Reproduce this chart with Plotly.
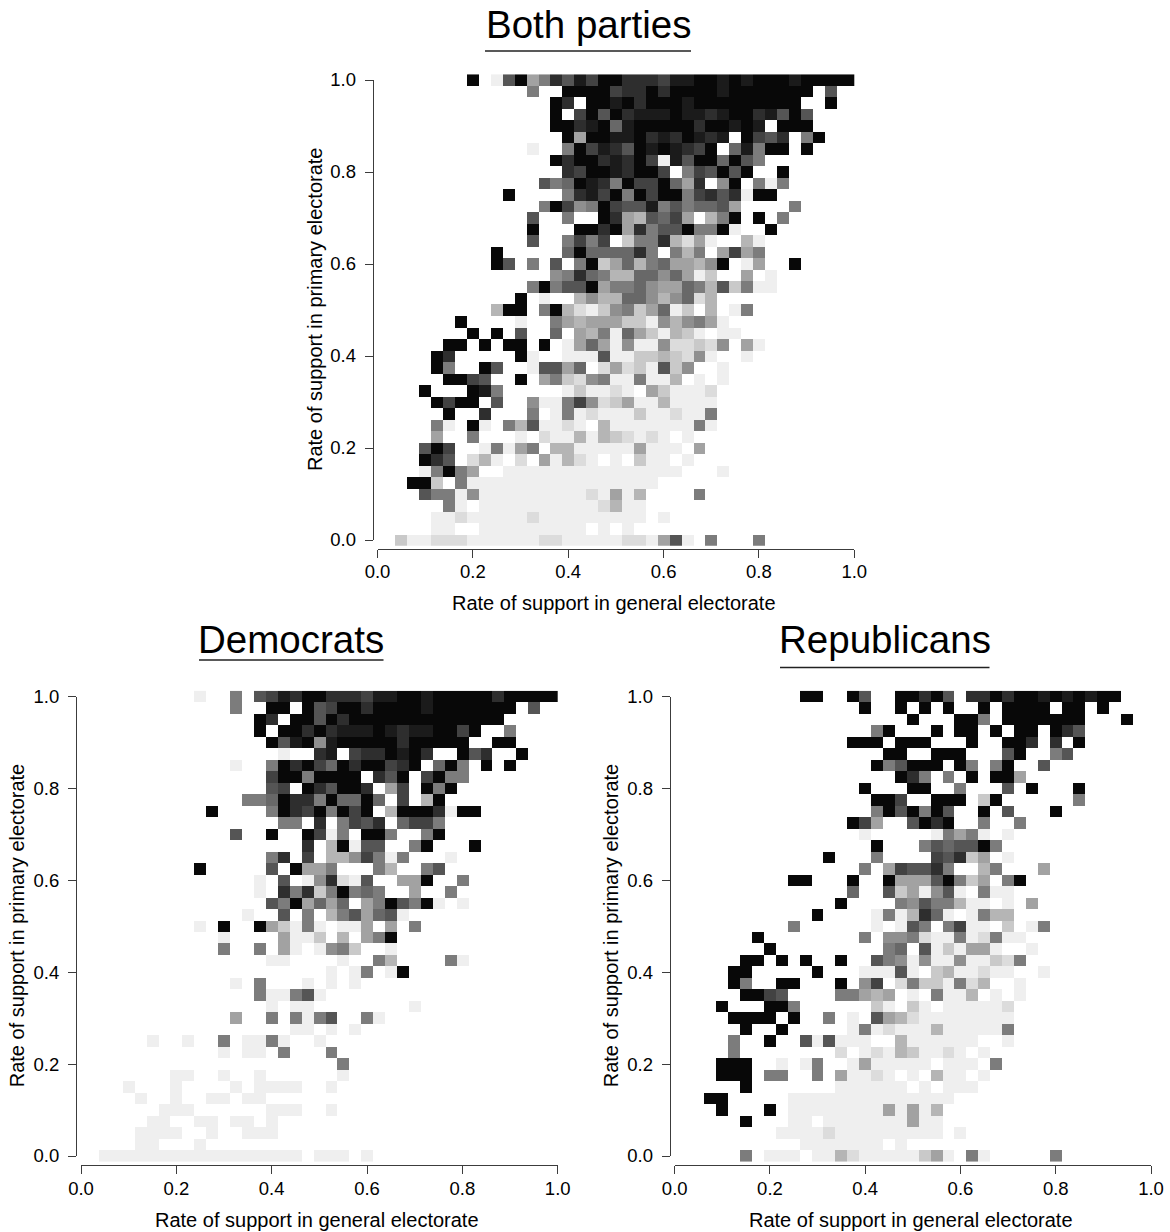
import plotly.graph_objects as go

W, H = 1170, 1232
FONT = "Liberation Sans"

# Each row is one y level, top row (1.0) first; each character is one x level (0.0, 0.025 ... 1.0).
# '.' = no data; 0..9,a,b,c = share in twelfths (0 = lightest, c = black).
both_rows = [
 "........c. 08c46a8b9c caaa9bbccb cbcccbcccc c",
 ".......... ...6..cccc 9aacaccccb ccccccc.8. .",
 ".......... .....ca.cc bcacccbccc cccccc..c. .",
 ".......... .....c.9c8 cabbbcbbab ccab8c8... .",
 ".......... .....ccabc 7bcccccacc bcb.ccc... .",
 ".......... ......c4cc bbcabacbab .c98a.6c.. .",
 ".......... ...0..6c9b a8cbcba9c. 7b6cc.c... .",
 ".......... .....cacca bac90b8cc7 c86....... .",
 ".......... ......a9cc bacc9.698c 8c..c..... .",
 ".......... ....867cba 6c99c74a.5 c.606..... .",
 ".......... .c....6ab9 c6c9cc69a8 a0cc...... .",
 ".......... ....6c956c 988b686778 4....6.... .",
 ".......... ...8..6..c a438794.36 c.c.6..... .",
 ".......... ...c...cca c4a688c66c 0..c...... .",
 ".......... ...8..6969 .266a3140. .30....... .",
 ".......... c.....7c77 77a6.636.4 946....... .",
 ".......... c8.6.8.6c2 473674435c .04..c.... .",
 ".......... .....56a76 337757402. .4.0...... .",
 ".......... ...6c688c4 6675447638 2600...... .",
 ".......... ..c.0..353 377535713. .......... .",
 ".......... 3cc.6c3102 5624702.3. 06........ .",
 ".......c.. ..0..64344 4220535640 .......... .",
 "........c. c.8..7.436 07420320.0 0......... .",
 "......cc.c .cc.c.0474 0500511215 .40....... .",
 ".....ca... ..c0..0008 002232150. .0........ .",
 ".....c6..c 8..08847.1 4120825..0 .......... .",
 "......cc98 ..c.462156 006003.0.0 .......... .",
 "....c...cb 6.....0200 10.420001. .......... .",
 ".....c9cc. 8..5006951 240030000. .......... .",
 "......c..a ...6.06010 002001006. .......... .",
 ".....60.c0 .6380010.3 000000060. .......... .",
 ".....4..6. ..0.100303 21010.0... .......... .",
 "....8c9..0 6046.33000 004000.4.. .......... .",
 "....ca8.13 0.1.40310. 0.200.0... .......... .",
 "....06c64. .000000000 000000...0 .......... .",
 "...cc2.600 0000000000 0000...... .......... .",
 "....866050 0000000010 403....6.. .......... .",
 "......60.0 0000000001 300....... .......... .",
 ".....00100 0001000000 000.0..... .......... .",
 ".....00..0 00000000.0 .0........ .......... .",
 "..20011100 0000110000 0110480.6. ..6....... .",
]
dem_rows = [
 ".......... 0..6.89bac caaa9bbccb cccccacccc c",
 ".......... ...6..cc.c 89ccaccccb ccccccc.8. .",
 ".......... .....ca.cc 8caccccccc cccccc.... .",
 ".......... .....c.cca cabbbcbabb cc9c..6... .",
 ".......... ......c8bc 5bcccccacc ccc..cc... .",
 ".......... .......0.. ab.9aacbca ..c8a..c.. .",
 ".......... ...0..6cac 97cacc9ac. 7c6.c.c... .",
 ".......... ......9cc6 cccc.a8c.9 c66....... .",
 ".......... ......89.c a8cca.49.c 6c........ .",
 ".......... ....667caa 6c77c7.9.3 c......... .",
 ".......... .c....6ca9 c6c9c.3ccc a0cc...... .",
 ".......... .......66. a.698a.799 6......... .",
 ".......... ...8..c..c 906.cc6..6 c......... .",
 ".......... .........a .3c088..6c ...c...... .",
 ".......... ......6a.9 .3359606.. .0........ .",
 ".......... c.....8.c4 46...63..6 8......... .",
 ".......... .....0.8.0 5a108..44c ..6....... .",
 ".......... .....0.a6a 26c676..4. .6........ .",
 ".......... ......86c4 747.46c86c 0.0....... .",
 ".......... ....0..8.6 .3684780.. .......... .",
 ".......... 0.c..c4206 0.004.4.6. .......... .",
 ".......... ..0....400 2.3.46c... .......... .",
 ".......... ..6..6.40. 0562..0... .......... .",
 ".......... ......00.. ..0..63... .60....... .",
 ".......... .......... .0.06.0c.. .......... .",
 ".......... ...0.6...0 .0.0...... .......... .",
 ".......... .....60068 0......... .......... .",
 ".......... ......0.00 ........0. .......... .",
 ".......... ...4..6.60 68..60.... .......... .",
 ".......... ........00 .0.0...... .......... .",
 "......0..0 ..6.0060.. 0......... .......... .",
 ".......... ..0.00.6.. .6........ .......... .",
 ".......... .......... ..6....... .......... .",
 "........00 ..0..0.... ..0....... .......... .",
 "....0...0. ...0.0000. .0........ .......... .",
 ".....0..0. .00.00.... .......... .......... .",
 ".......000 ......000. .0........ .......... .",
 "......00.. 00.00.0... .......... .......... .",
 ".....0000. .0..000... .......... .......... .",
 ".....00... 0......... .......... .......... .",
 "..00000000 000000000. 000.0..... .......... .",
]
rep_rows = [
 ".......... .cc..c8..c cac8.aacac cbcbcbcc.. .",
 ".......... ......c..c .c.c..c.cc cc.cc.c... .",
 ".......... .......... c...cc6.cc ccccc...c. .",
 ".......... .......6c. ..c.cc.c.c c.ca8..... .",
 ".......... .....ccc.c cc...c..cc a.a.c..... .",
 ".......... ........cc ..ccc...8c ..68...... .",
 ".......... .......c68 ccc.c6.6c. .8........ .",
 ".......... .........c a6.6.c.cc4 .......... .",
 ".......... ......c... cc..6...8. c...c..... .",
 ".......... .......cc9 ..ccc.2c.. ....6..... .",
 ".......... .......6c8 c6c8..c.8. ..c....... .",
 ".......... .....c94.. 8cac..6..6 .......... .",
 ".......... ......0... ..06460.0. .......... .",
 ".......... .......c.. .68788c6.. .......... .",
 ".......... ...c...6.. ..98a24.0. .......... .",
 ".......... ......6.49 88a6..36.. .4........ .",
 ".......... cc...c..c4 448c624.6c .......... .",
 ".......... .....7..82 40580.600. .......... .",
 ".......... ....c....6 5866300.0. 4......... .",
 ".......... ..c....060 3a70.0633. .......... .",
 ".......... 6......0.0 86.6900.2. 06........ .",
 ".......c.. ......6.55 6100601600 .......... .",
 "........c. ........67 .8020440.. 0......... .",
 "......cc.c .c..c..865 0500500216 .......... .",
 ".....cc... ..c...0008 0.2300100. .0........ .",
 ".....c6..c c...c.59.1 6220613..0 .......... .",
 "......cc98 ....66434. 0.6003.0.0 .......... .",
 "....c...cc 6......20. 20.000001. .......... .",
 ".....cccc. c..6.0.843 100000000. .......... .",
 "......c..c .....06010 003000006. .......... .",
 ".....6..c. .808000..3 000000..0. .......... .",
 ".....6.... ....1.0103 20010.0... .......... .",
 "....ccc..0 .06..04000 00.000.6.. .......... .",
 "....ccc.66 ..6.40010. 0.300.0... .......... .",
 "......c... ....000000 .0.000.... .......... .",
 "...cc..... 0000000000 0000...... .......... .",
 "....c...c. 0000000040 403....... .......... .",
 "......c... 00.0000000 400....... .......... .",
 ".........0 0001000000 000.0..... .......... .",
 ".......... .0000000.0 .......... .......... .",
 "......6.00 0.00310000 0240.60... ..6....... .",
]

titles = ["Both parties", "Democrats", "Republicans"]
x_label = "Rate of support in general electorate"
y_label = "Rate of support in primary electorate"
tick_vals = [0.0, 0.2, 0.4, 0.6, 0.8, 1.0]
tick_text = ["0.0", "0.2", "0.4", "0.6", "0.8", "1.0"]
x_levels = [i / 40 for i in range(41)]
y_levels = [j / 40 for j in range(41)]

# panel geometry in page pixels
panels = [
    dict(rows=both_rows, x0=377.5, x1=854.3, ytop=80.0, ybot=540.0, yax=372.7, xax=548.7,
         title_x=588, title_y=24.5, rule=(485, 691, 51), ylab_x=315, xlab_y=603),
    dict(rows=dem_rows, x0=81.0, x1=557.7, ytop=696.5, ybot=1156.0, yax=76.0, xax=1165.3,
         title_x=291, title_y=639.5, rule=(199, 383.5, 660), ylab_x=17, xlab_y=1220),
    dict(rows=rep_rows, x0=674.7, x1=1151.0, ytop=696.5, ybot=1156.0, yax=669.7, xax=1165.3,
         title_x=884.5, title_y=639.5, rule=(780, 989.5, 667.5), ylab_x=611, xlab_y=1220),
]

def fx(p):
    return p / W

def fy(p):
    return 1 - p / H

def decode(rows):
    grid = []
    for row in reversed(rows):
        s = row.replace(" ", "")
        grid.append([None if c == "." else int(c, 16) / 12 for c in s])
    return grid

fig = go.Figure()
layout = dict(
    width=W, height=H, margin=dict(l=0, r=0, t=0, b=0, autoexpand=False), paper_bgcolor="white", plot_bgcolor="rgba(0,0,0,0)",
    showlegend=False, font=dict(family=FONT, color="black"),
)
annotations, shapes = [], []
AXC = "#3c3c3c"
TICKFONT = dict(family=FONT, size=18.5, color="black")

for k, p in enumerate(panels):
    n = 2 * k + 1
    hx, hy, dx, dy = n, n, n + 1, n + 1
    half = (p["ybot"] - p["ytop"]) / 80
    sx = lambda a: "x" if a == 1 else f"x{a}"
    sy = lambda a: "y" if a == 1 else f"y{a}"
    fig.add_trace(go.Heatmap(
        x=x_levels, y=y_levels, z=decode(p["rows"]), xaxis=sx(hx), yaxis=sy(hy),
        colorscale=[[0, "#efefef"], [1, "#080808"]], zmin=0, zmax=1, showscale=False,
        hoverongaps=False,
    ))
    fig.add_trace(go.Scatter(x=[], y=[], xaxis=sx(dx), yaxis=sy(dy), showlegend=False))
    layout[f"xaxis{hx}"] = dict(domain=[fx(p["x0"]), fx(p["x1"])], range=[0, 1], visible=False, anchor=sy(hy))
    layout[f"yaxis{hy}"] = dict(domain=[fy(p["ybot"] + half), fy(p["ytop"] - half)],
                                range=[-0.0125, 1.0125], visible=False, anchor=sx(hx))
    layout[f"xaxis{dx}"] = dict(
        domain=[fx(p["x0"]), fx(p["x1"])], range=[0, 1], anchor="free", position=fy(p["xax"]),
        showline=True, linecolor=AXC, linewidth=1, ticks="outside", ticklen=8, tickcolor=AXC, tickwidth=1,
        tickvals=tick_vals, ticktext=tick_text, tickfont=TICKFONT, showgrid=False, zeroline=False,
        ticklabelstandoff=-2,
    )
    layout[f"yaxis{dy}"] = dict(
        domain=[fy(p["ybot"]), fy(p["ytop"])], range=[0, 1], anchor="free", position=fx(p["yax"]),
        showline=True, linecolor=AXC, linewidth=1, ticks="outside", ticklen=8, tickcolor=AXC, tickwidth=1,
        tickvals=tick_vals, ticktext=tick_text, tickfont=TICKFONT, showgrid=False, zeroline=False,
        ticklabelstandoff=5,
    )
    annotations.append(dict(text=titles[k], xref="paper", yref="paper", x=fx(p["title_x"]), y=fy(p["title_y"]),
                            showarrow=False, xanchor="center", yanchor="middle",
                            font=dict(family=FONT, size=38.5, color="black")))
    annotations.append(dict(text=x_label, xref="paper", yref="paper", x=fx((p["x0"] + p["x1"]) / 2 - 2),
                            y=fy(p["xlab_y"]), showarrow=False, xanchor="center", yanchor="middle",
                            font=dict(family=FONT, size=20, color="black")))
    annotations.append(dict(text=y_label, xref="paper", yref="paper", x=fx(p["ylab_x"]),
                            y=fy((p["ytop"] + p["ybot"]) / 2 - 1), textangle=-90, showarrow=False,
                            xanchor="center", yanchor="middle",
                            font=dict(family=FONT, size=20, color="black")))
    r0, r1, ry = p["rule"]
    shapes.append(dict(type="line", xref="paper", yref="paper", x0=fx(r0), x1=fx(r1), y0=fy(ry), y1=fy(ry),
                       line=dict(color="#222222", width=1.5)))

layout["annotations"] = annotations
layout["shapes"] = shapes
fig.update_layout(**layout)
fig.write_html("out.html", post_script="document.body.style.margin='0';", config={"displayModeBar": False})
